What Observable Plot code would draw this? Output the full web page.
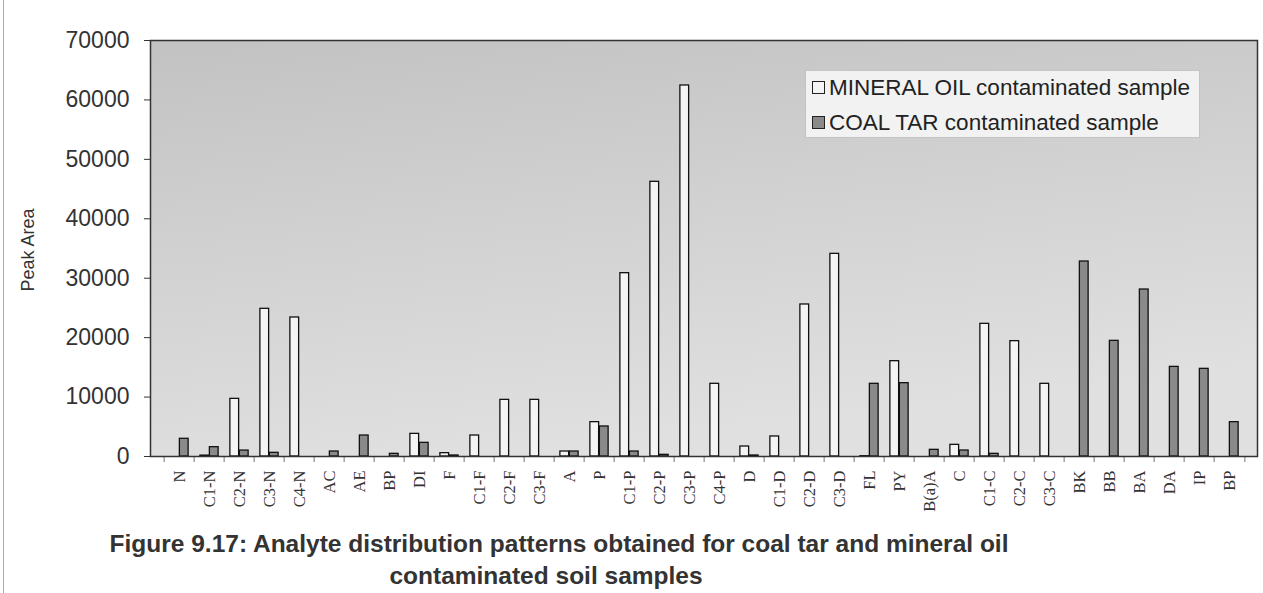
<!DOCTYPE html>
<html><head><meta charset="utf-8">
<script src="https://cdn.jsdelivr.net/npm/d3@7"></script>
<script src="https://cdn.jsdelivr.net/npm/@observablehq/plot@0.6"></script>
<style>
body{margin:0;background:#fff;}
#wrap{position:relative;width:1263px;height:593px;overflow:hidden;font-family:"Liberation Sans",Arial,sans-serif;color:#333;}
#chart{position:absolute;left:0;top:0;}
#edge{position:absolute;left:3px;top:0;width:1px;height:593px;background:#aaa;}
#legend{position:absolute;left:805px;top:70px;width:395px;height:68px;background:#f2f2f2;border:1px solid #c4c4c4;box-sizing:border-box;font-size:22.5px;color:#222;}
.row{position:absolute;left:6px;height:26px;line-height:26px;white-space:nowrap;}
.sw{display:inline-block;width:11px;height:11px;border:1px solid #222;margin-right:4px;vertical-align:1px;}
#ylab{position:absolute;left:28px;top:250px;transform:translate(-50%,-50%) rotate(-90deg);font-size:18px;white-space:nowrap;color:#333;}
.title{position:absolute;font-weight:bold;font-size:24.5px;white-space:nowrap;transform:translateX(-50%);color:#333;}
</style></head>
<body><div id="wrap"><div id="edge"></div><div id="chart"></div>
<div id="ylab">Peak Area</div>
<div id="legend"></div>
<div class="title" id="t1" style="left:559px;top:530px;"></div>
<div class="title" id="t2" style="left:546px;top:562px;"></div>
</div>
<script>
const categories = ["N","C1-N","C2-N","C3-N","C4-N","AC","AE","BP","DI","F","C1-F","C2-F","C3-F","A","P","C1-P","C2-P","C3-P","C4-P","D","C1-D","C2-D","C3-D","FL","PY","B(a)A","C","C1-C","C2-C","C3-C","BK","BB","BA","DA","IP","BP"];
const mineralOil = [0,150,9700,24850,23390,0,0,0,3810,560,3530,9530,9530,840,5780,30850,46220,62430,12230,1680,3370,25580,34100,50,16040,0,1960,22320,19410,12230,0,0,0,0,0,0];
const coalTar = [2980,1570,1000,620,0,840,3530,450,2300,170,0,0,0,840,5050,840,280,0,0,170,0,0,0,12230,12340,1120,1010,450,0,0,32810,19460,28100,15080,14750,5780];
const seriesNames = ["MINERAL OIL contaminated sample","COAL TAR contaminated sample"];
const seriesColors = ["#f4f4f4","#8a8a8a"];
const yTicks = [0,10000,20000,30000,40000,50000,60000,70000];
const yLabel = "Peak Area";
const titleLines = ["Figure 9.17: Analyte distribution patterns obtained for coal tar and mineral oil","contaminated soil samples"];

const W=1263, H=520, ML=150, MR=6, MT=40, MB=64;
const n = categories.length;
const bw = (W-ML-MR)/n;
const barW = 9.5;
const rows = categories.map((c,i)=>({i, c, m: mineralOil[i], t: coalTar[i]}));

const chart = Plot.plot({
  width:W, height:H, marginLeft:ML, marginRight:MR, marginTop:MT, marginBottom:MB,
  style:{background:"transparent", color:"#333"},
  x:{type:"band", domain:d3.range(n), padding:0, axis:null},
  y:{domain:[0,70000], axis:null},
  marks:[
    Plot.frame({fill:"url(#bg)"}),
    Plot.barY(rows.filter(d=>d.m>0), {x:"i", y:"m", fill:seriesColors[0], stroke:"#111", strokeWidth:1.3, insetLeft:bw/2-barW, insetRight:bw/2}),
    Plot.barY(rows.filter(d=>d.t>0), {x:"i", y:"t", fill:seriesColors[1], stroke:"#111", strokeWidth:1.3, insetLeft:bw/2, insetRight:bw/2-barW}),
    Plot.axisY({ticks:yTicks, tickSize:6, tickPadding:15, tickFormat:d=>String(d), fontSize:23, fontFamily:"Liberation Sans, Arial, sans-serif", fill:"#333", stroke:"#333", label:null}),
    Plot.axisX({tickSize:6, fill:"none", dx:-bw/2, stroke:"#777", label:null}),
    Plot.axisX([n-1], {tickSize:6, fill:"none", dx:bw/2, stroke:"#777", label:null}),
    Plot.axisX({tickSize:0, tickPadding:14, tickRotate:-90, tickFormat:i=>categories[i], fontSize:16.5, fontFamily:"Liberation Serif, Times New Roman, serif", fill:"#333", label:null}),
    Plot.frame({stroke:"#333", strokeWidth:1.5})
  ]
});
const defs = d3.select(chart).insert("defs", ":first-child");
const g = defs.append("linearGradient").attr("id","bg").attr("x1","0").attr("y1","0").attr("x2","0.3").attr("y2","1");
[["0%","#c2c2c2"],["45%","#d0d0d0"],["100%","#e0e0e0"]].forEach(([o,c])=>g.append("stop").attr("offset",o).attr("stop-color",c));
document.getElementById("chart").appendChild(chart);

const leg = document.getElementById("legend");
seriesNames.forEach((s,k)=>{
  const r = document.createElement("div");
  r.className="row"; r.style.top = (4+k*35)+"px";
  r.innerHTML = `<span class="sw" style="background:${seriesColors[k]}"></span>${s}`;
  leg.appendChild(r);
});
document.getElementById("ylab").textContent = yLabel;
document.getElementById("t1").textContent = titleLines[0];
document.getElementById("t2").textContent = titleLines[1];
</script></body></html>
